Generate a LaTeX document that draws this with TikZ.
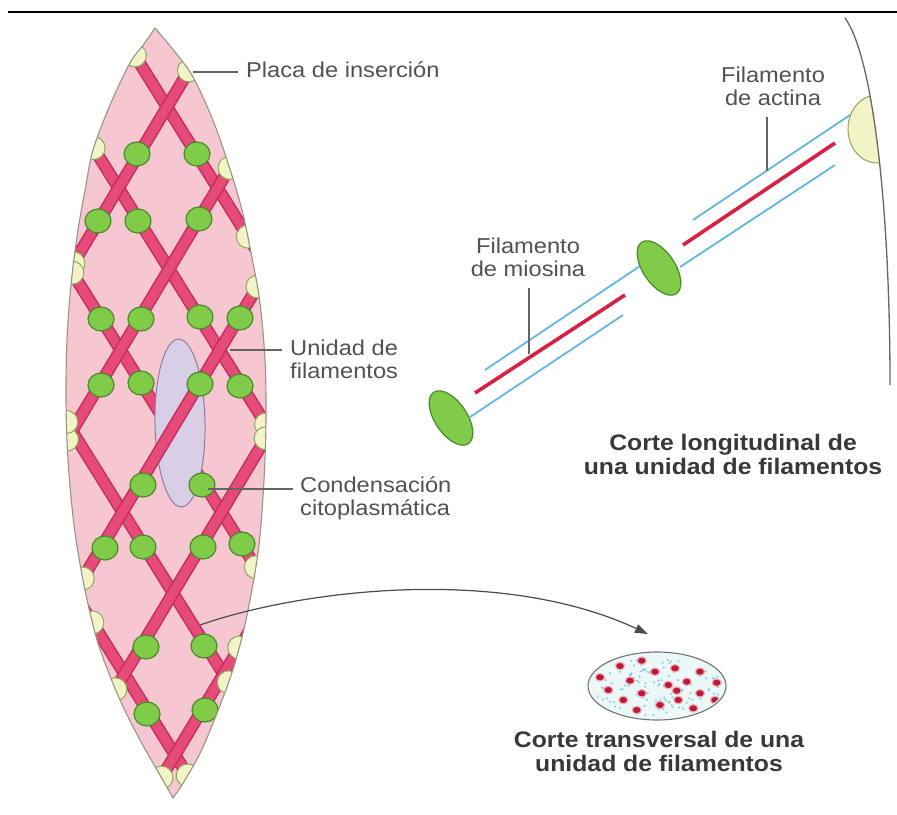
\documentclass[tikz,border=0pt]{standalone}
\usepackage{fontspec}
\newfontfamily\labfamily[FakeStretch=1.1]{Liberation Sans}
\usetikzlibrary{calc,intersections,arrows.meta,shapes.geometric}

\definecolor{cellpink}{RGB}{247,199,209}
\definecolor{cellline}{RGB}{150,150,130}
\definecolor{bandfill}{RGB}{229,74,120}
\definecolor{bandedge}{RGB}{196,46,92}
\definecolor{bodyfill}{RGB}{128,204,72}
\definecolor{bodyedge}{RGB}{74,138,42}
\definecolor{platefill}{RGB}{242,243,198}
\definecolor{plateedge}{RGB}{140,168,92}
\definecolor{nucfill}{RGB}{216,206,230}
\definecolor{nucedge}{RGB}{140,125,160}
\definecolor{actin}{RGB}{95,185,222}
\definecolor{myosin}{RGB}{218,32,66}
\definecolor{labgray}{RGB}{82,82,82}
\definecolor{leadgray}{RGB}{100,100,100}
\definecolor{speck}{RGB}{120,205,222}
\definecolor{xsfill}{RGB}{236,247,247}

% outline of the smooth muscle cell (spindle)
\def\cellshape{plot[smooth,tension=0.55] coordinates {(155,28) (175,52) (193,77) (212,118) (227,160) (242,210) (253,263) (260,303) (265,360) (266,420) (264,480) (259,545) (250,600) (240,645) (227,687) (203,747) (185,780) (173,798)} -- plot[smooth,tension=0.55] coordinates {(173,798) (160,775) (140,740) (120,700) (102,655) (93,625) (83,580) (74,525) (68,460) (66,400) (67,340) (71,285) (78,230) (86,185) (93,150) (110,105) (130,63) (144,44) (155,28)} -- cycle}
% cell membrane seen in the longitudinal section
\def\membrane{(845,18) .. controls (872,55) and (890,200) .. (890,385)}

\begin{document}
\begin{tikzpicture}[x=1pt,y=-1pt,
  lab/.style={font=\labfamily\fontsize{21.5}{23}\selectfont, text=labgray, inner sep=0pt},
  boldlab/.style={font=\labfamily\bfseries\fontsize{22.5}{24.5}\selectfont, text=black!78, inner sep=0pt},
  leader/.style={draw=leadgray, line width=1.1pt},
  bandouter/.style={draw=bandedge, line width=12.5pt},
  bandinner/.style={draw=bandfill, line width=9.5pt},
  densebody/.style={fill=bodyfill, draw=bodyedge, line width=1.2pt},
  plate/.style={fill=platefill, draw=plateedge, line width=1pt},
  nucleus/.style={fill=nucfill, draw=nucedge, line width=1pt},
  actinline/.style={draw=actin, line width=1.8pt},
  myosinline/.style={draw=myosin, line width=3.6pt},
  arrowline/.style={draw=black!70, line width=1.2pt, -{Triangle[length=13pt,width=9pt]}},
  redspot/.style={fill=myosin!85!black, draw=myosin!35, line width=1.2pt}
]
\useasboundingbox (0,0) rectangle (897,814);
\fill[white] (0,0) rectangle (897,814);

% rule across the top
\draw[line width=2.2pt] (8,12) -- (897,12);

% ---------- cell with its lattice of filament units ----------
\fill[cellpink, name path global=cell] \cellshape;
\begin{scope}
  \clip \cellshape;
  % filament units running down to the right
  \foreach \n in {0,...,4}{
    \pgfmathsetmacro\xa{100.3-99*\n}
    \pgfmathsetmacro\xb{607.8-99*\n}
    \draw[bandouter] (\xa,0) -- (\xb,814);
    \draw[bandinner] (\xa,0) -- (\xb,814);
    \path[name path global=bandA\n] (\xa,0) -- (\xb,814);
  }
  % nucleus
  \filldraw[nucleus, rotate around={1:(180,423)}] (180,423) ellipse[x radius=25, y radius=84];
  % filament units running down to the left
  \foreach \m in {0,...,4}{
    \pgfmathsetmacro\xa{231.1+99*\m}
    \pgfmathsetmacro\xb{-256.3+99*\m}
    \draw[bandouter] (\xa,0) -- (\xb,814);
    \draw[bandinner] (\xa,0) -- (\xb,814);
    \path[name path global=bandB\m] (\xa,0) -- (\xb,814);
  }
  % cytoplasmic dense bodies
  \foreach \px/\py in {137/154,98/221,138/221,197/154,199/219,
      101/319,141/319,101/385,141/383,200/317,240/318,200/384,240/386,
      143/485,105/548,143/547,202/485,203/547,242/544,
      146/647,147/714,204/646,205/710}
    \filldraw[densebody] (\px,\py) ellipse[x radius=13, y radius=12];
  % attachment plaques where the units meet the membrane
  \foreach \n in {0,...,4}{
    \filldraw[plate, name intersections={of=cell and bandA\n, total=\ntot}]
      \foreach \s in {1,...,\ntot}{(intersection-\s) circle[radius=11.5]};
    \filldraw[plate, name intersections={of=cell and bandB\n, total=\ntot}]
      \foreach \s in {1,...,\ntot}{(intersection-\s) circle[radius=11.5]};
  }
\end{scope}
\draw[draw=cellline, line width=1.1pt] \cellshape;

% ---------- longitudinal section of one filament unit ----------
\draw[actinline] (485,370) -- (640,266);
\draw[actinline] (470,417) -- (623,315);
\draw[actinline] (693,220) -- (850,115);
\draw[actinline] (680,267) -- (835,165);
\draw[myosinline] (475,393) -- (625,295);
\draw[myosinline] (683,245) -- (835,143);
\filldraw[densebody, rotate around={-56:(451,418)}] (451,418) ellipse[x radius=31, y radius=16];
\filldraw[densebody, rotate around={-56:(659,268)}] (659,268) ellipse[x radius=31, y radius=16];
\begin{scope}
  \clip \membrane -- (700,385) -- (700,18) -- cycle;
  \filldraw[plate] (877,129) ellipse[x radius=29, y radius=34];
\end{scope}
\draw[draw=black!60, line width=1.3pt] \membrane;

% ---------- transverse section ----------
\node[ellipse, draw=black!55, fill=xsfill, line width=1.1pt, minimum width=138pt, minimum height=68pt, inner sep=0pt] (xsec) at (657,686) {};
\begin{scope}
  \clip (657,686) ellipse[x radius=67, y radius=32];
  \pgfmathsetseed{11}
  \foreach \k in {1,...,110}{
    \pgfmathsetmacro\rr{sqrt(rnd)}
    \pgfmathsetmacro\aa{360*rnd}
    \fill[speck] ({657+64*\rr*cos(\aa)},{686+30*\rr*sin(\aa)}) circle[radius=1.1];
  }
  \foreach \px/\py in {641.7/660.7,620/666,655/671.7,675/668.3,700/671.7,600/677.3,
      630/680.7,668.3/685,686.7/681.7,716.7/682.7,608.3/690,641.7/693.3,
      676.7/690.7,700/693.3,623.3/700,660/705,678.3/700,715/700,636.7/710,693.3/708.3}
    \filldraw[redspot] (\px,\py) ellipse[x radius=4.6, y radius=3.8];
\end{scope}

% arrow from the cell to the transverse section
\coordinate (arrowS) at (200,625);
\coordinate (arrowT) at (648,634);
\draw[arrowline] (arrowS) .. controls (300,590) and (500,565) .. (arrowT);

% ---------- labels ----------
\node[lab, anchor=base west] (placa) at (246,77) {Placa de inserción};
\coordinate (placaP) at (193,72);
\draw[leader, shorten >=8pt] (placaP) -- (placaP -| placa.west);

\node[lab, anchor=base west] (unidad) at (290,355)
  {\begin{tabular}[t]{@{}l@{}}Unidad de\\filamentos\end{tabular}};
\coordinate (unidadP) at (230,350);
\draw[leader, shorten >=8pt] (unidadP) -- (unidadP -| unidad.west);

\node[lab, anchor=base west] (conden) at (300,492)
  {\begin{tabular}[t]{@{}l@{}}Condensación\\citoplasmática\end{tabular}};
\coordinate (condenP) at (208,489);
\draw[leader, shorten >=7pt] (condenP) -- (condenP -| conden.west);

\node[lab, anchor=base] (miosina) at (528,253)
  {\begin{tabular}[t]{@{}c@{}}Filamento\\de miosina\end{tabular}};
\coordinate (miosinaP) at (529,354);
\draw[leader, shorten <=5pt] (miosinaP |- miosina.south) -- (miosinaP);

\node[lab, anchor=base] (actina) at (773,82)
  {\begin{tabular}[t]{@{}c@{}}Filamento\\de actina\end{tabular}};
\coordinate (actinaP) at (767,171);
\draw[leader, shorten <=5pt] (actinaP |- actina.south) -- (actinaP);

\node[boldlab, anchor=base] (longit) at (733,450)
  {\begin{tabular}[t]{@{}c@{}}Corte longitudinal de\\una unidad de filamentos\end{tabular}};
\node[boldlab, anchor=base] (transv) at (659,747)
  {\begin{tabular}[t]{@{}c@{}}Corte transversal de una\\unidad de filamentos\end{tabular}};
\end{tikzpicture}
\end{document}
